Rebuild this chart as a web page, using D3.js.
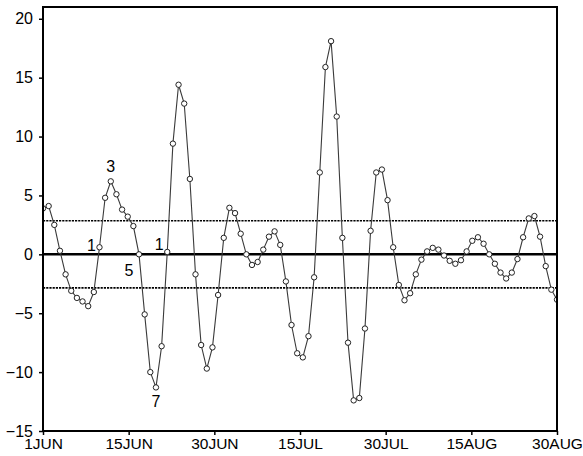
<!DOCTYPE html>
<html>
<head>
<meta charset="utf-8">
<script src="https://cdn.jsdelivr.net/npm/d3@7"></script>
<style>
  body { margin: 0; background: #fff; }
  svg { display: block; font-family: "Liberation Sans", Arial, sans-serif; }
</style>
</head>
<body>
<script>
var width = 583
var height = 456
var margin = {top: 7, right: 26, bottom: 25, left: 43}

// daily values, 1 Jun .. 31 Aug
var values = [
  3.9, 4.1, 2.5, 0.3, -1.7, -3.1, -3.7, -4.0, -4.4, -3.2,
  0.6, 4.8, 6.2, 5.1, 3.8, 3.2, 2.4, 0.0, -5.1, -10.0,
  -11.3, -7.8, 0.2, 9.4, 14.4, 12.8, 6.4, -1.7, -7.7, -9.7,
  -7.9, -3.45, 1.4, 3.95, 3.5, 1.75, 0.0, -0.9, -0.65, 0.4,
  1.5, 1.95, 0.8, -2.3, -6.0, -8.4, -8.75, -6.95, -1.95, 6.95,
  15.9, 18.1, 11.7, 1.4, -7.5, -12.4, -12.2, -6.3, 2.0, 6.95,
  7.2, 4.6, 0.6, -2.6, -3.9, -3.3, -1.7, -0.45, 0.25, 0.55,
  0.4, -0.1, -0.55, -0.8, -0.5, 0.25, 1.15, 1.45, 0.9, 0.0,
  -0.8, -1.55, -2.05, -1.55, -0.4, 1.45, 3.05, 3.25, 1.5, -1.0,
  -3.0, -3.85
]

var xTickLabels = ['1JUN', '15JUN', '30JUN', '15JUL', '30JUL', '15AUG', '30AUG']
var yTicks = [-15, -10, -5, 0, 5, 10, 15, 20]
var bandLimits = [-2.85, 2.85]

// labelled points: index into values, text
var noteIndex = [12, 10, 22, 17, 20]
var noteText = ['3', '1', '1', '5', '7']

var noteOffset = [[0, -15], [-8, -2], [-8, -7], [-10, 16], [0, 14]]

var svg = d3.select('body').append('svg')
    .attr('width', width)
    .attr('height', height)

var innerW = width - margin.left - margin.right
var innerH = height - margin.top - margin.bottom
var last = values.length - 1

var x = d3.scaleLinear().domain([0, last]).range([margin.left, margin.left + innerW])
var y = d3.scaleLinear().domain([-15, 21]).range([margin.top + innerH, margin.top])

svg.append('clipPath').attr('id', 'plotClip')
  .append('rect')
    .attr('x', margin.left).attr('y', margin.top)
    .attr('width', innerW).attr('height', innerH)

// axes
var xTickVals = xTickLabels.map((_, i) => last * i / (xTickLabels.length - 1))

var xAxis = d3.axisBottom(x)
    .tickValues(xTickVals)
    .tickFormat((_, i) => xTickLabels[i])
    .tickSize(4).tickPadding(3)

var yAxis = d3.axisLeft(y)
    .tickValues(yTicks)
    .tickSize(4).tickPadding(6)

var gx = svg.append('g')
    .attr('transform', `translate(0,${margin.top + innerH})`)
    .call(xAxis)
gx.select('.domain').remove()
gx.selectAll('line').attr('stroke', '#000').attr('stroke-width', 1.5)
gx.selectAll('text').attr('font-size', 15.5).attr('fill', '#000')

var gy = svg.append('g')
    .attr('transform', `translate(${margin.left},0)`)
    .call(yAxis)
gy.select('.domain').remove()
gy.selectAll('line').attr('stroke', '#000').attr('stroke-width', 1.5)
gy.selectAll('text').attr('font-size', 16).attr('fill', '#000')

// reference lines
var plot = svg.append('g').attr('clip-path', 'url(#plotClip)')

plot.selectAll('line.band')
  .data(bandLimits)
  .enter().append('line')
    .attr('class', 'band')
    .attr('x1', margin.left).attr('x2', margin.left + innerW)
    .attr('y1', d => y(d)).attr('y2', d => y(d))
    .attr('stroke', '#000')
    .attr('stroke-width', 1.6)
    .attr('stroke-dasharray', '2.2,1')

plot.append('line')
    .attr('x1', margin.left).attr('x2', margin.left + innerW)
    .attr('y1', y(0)).attr('y2', y(0))
    .attr('stroke', '#000')
    .attr('stroke-width', 2.5)

// series
var line = d3.line()
    .x((d, i) => x(i))
    .y(d => y(d))

plot.append('path')
    .datum(values)
    .attr('d', line)
    .attr('fill', 'none')
    .attr('stroke', '#3a3a3a')
    .attr('stroke-width', 1.1)

plot.selectAll('circle')
  .data(values)
  .enter().append('circle')
    .attr('cx', (d, i) => x(i))
    .attr('cy', d => y(d))
    .attr('r', 2.7)
    .attr('fill', '#fff')
    .attr('stroke', '#222')
    .attr('stroke-width', 1)

// notes
svg.selectAll('text.note')
  .data(noteIndex)
  .enter().append('text')
    .attr('class', 'note')
    .attr('x', (d, i) => x(d) + noteOffset[i][0])
    .attr('y', (d, i) => y(values[d]) + noteOffset[i][1])
    .attr('text-anchor', 'middle')
    .attr('dominant-baseline', 'central')
    .attr('font-size', 16)
    .text((d, i) => noteText[i])

// frame
svg.append('rect')
    .attr('x', margin.left).attr('y', margin.top)
    .attr('width', innerW).attr('height', innerH)
    .attr('fill', 'none')
    .attr('stroke', '#000')
    .attr('stroke-width', 2)
</script>
</body>
</html>
